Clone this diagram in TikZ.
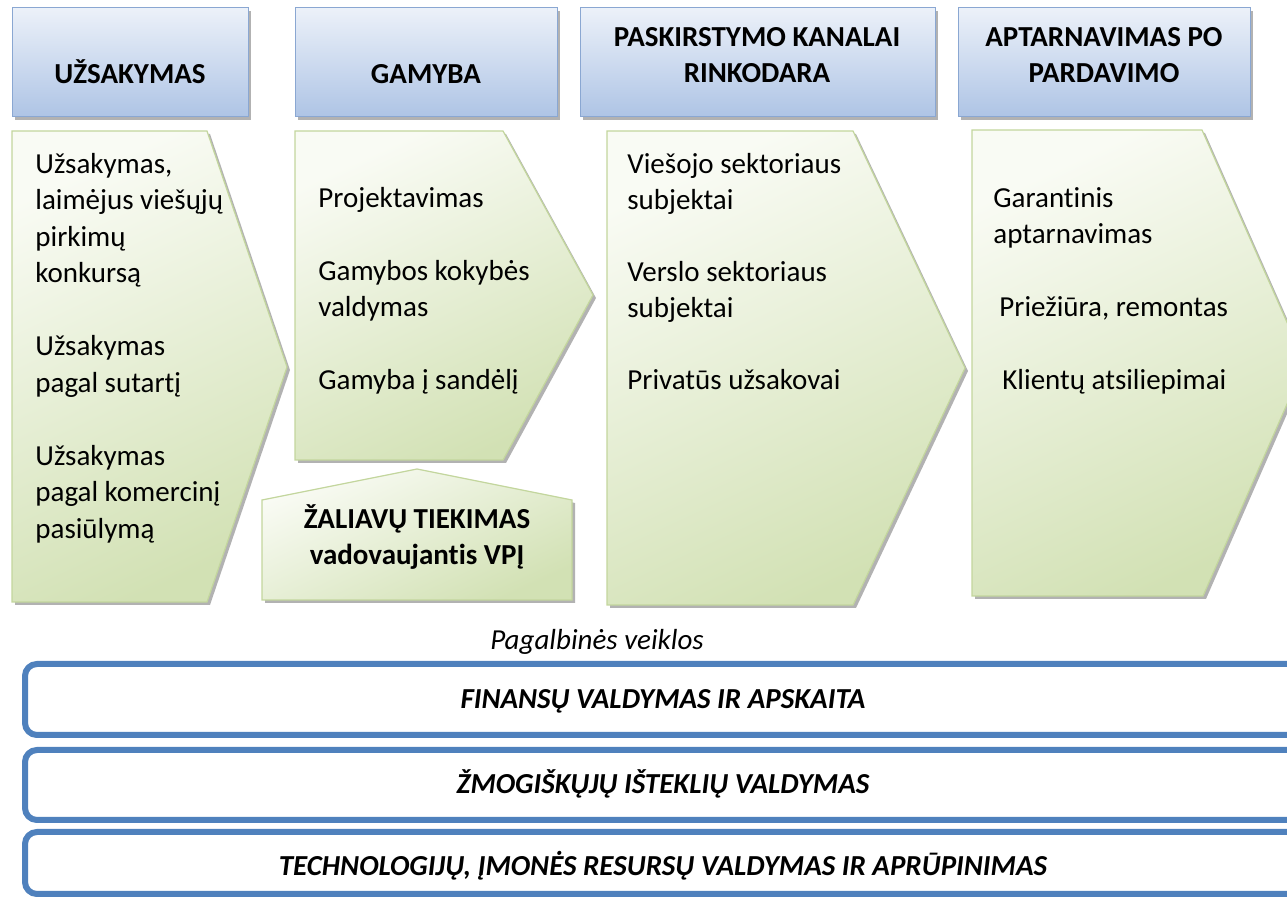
\documentclass[tikz,border=0pt]{standalone}
\usepackage{fontspec}
\setmainfont{Carlito}[Ligatures=NoCommon]
\usepackage{tikz}
\usetikzlibrary{shadows}

\definecolor{HdrTop}{RGB}{236,241,249}
\definecolor{HdrBot}{RGB}{174,196,229}
\definecolor{HdrLine}{RGB}{138,167,210}
\definecolor{ChvTop}{RGB}{249,251,244}
\definecolor{ChvBot}{RGB}{210,225,180}
\definecolor{ChvLine}{RGB}{195,214,157}
\definecolor{BarLine}{RGB}{79,129,189}
\newcommand{\chainfont}{\fontsize{14.5}{18.25}\selectfont}

\begin{document}
\begin{tikzpicture}[x=0.5pt, y=-0.5pt,
      font = \chainfont,
       shd/.style = {drop shadow={shadow xshift=1.5pt, shadow yshift=-1.5pt,
                                  fill=black!55, opacity=0.55}},
       hdr/.style = {shd, draw=HdrLine, line width=0.5pt,
                     top color=HdrTop, bottom color=HdrBot},
       chv/.style = {shd, draw=ChvLine, line width=0.6pt,
                     top color=ChvTop, bottom color=ChvBot, shading angle=25},
       bar/.style = {draw=BarLine, line width=3pt, rounded corners=6pt, fill=white},
       ttl/.style = {inner sep=0pt, align=center, font=\chainfont\bfseries},
       txt/.style = {inner sep=0pt, align=left, anchor=north west},
       sup/.style = {inner sep=0pt, anchor=base, font=\chainfont\bfseries\itshape}
                    ]
\clip (0,0) rectangle (1287,898);
% primary activities: headers
\draw[hdr] (12,8)   rectangle (248,117);
\draw[hdr] (295,8)  rectangle (557,117);
\draw[hdr] (580,8)  rectangle (935,117);
\draw[hdr] (958,8)  rectangle (1250,117);
\node (h1) [ttl,anchor=north] at (130,57.5)  {\strut UŽSAKYMAS};
\node (h2) [ttl,anchor=north] at (426,57.5)  {\strut GAMYBA};
\node (h3) [ttl,anchor=north] at (757,20.5)  {\strut PASKIRSTYMO KANALAI\\ RINKODARA};
\node (h4) [ttl,anchor=north] at (1104,20.5) {\strut APTARNAVIMAS PO\\ PARDAVIMO};
% primary activities: chevrons
\draw[chv] (12,131)  -- (207,131)  -- (287,367)  -- (207,602)  -- (12,602)  -- cycle;
\draw[chv] (295,131) -- (503,131)  -- (593,295)  -- (503,460)  -- (295,460) -- cycle;
\draw[chv] (262,500) -- (417,469)  -- (572,500)  -- (572,600)  -- (262,600) -- cycle;
\draw[chv] (607,131) -- (853,131)  -- (965,368)  -- (853,605)  -- (607,605) -- cycle;
\draw[chv] (972,130) -- (1202,130) -- (1305,363) -- (1203,596) -- (972,596) -- cycle;
\node (c1) [txt] at (35,147.5)  {\strut Užsakymas,\\ laimėjus viešųjų\\ pirkimų\\ konkursą\\[18.25pt]
                                  Užsakymas\\ pagal sutartį\\[18.25pt]
                                  Užsakymas\\ pagal komercinį\\ pasiūlymą};
\node (c2) [txt] at (318,181.5) {\strut Projektavimas\\[18.25pt]
                                  Gamybos kokybės\\ valdymas\\[18.25pt]
                                  Gamyba į sandėlį};
\node (c3) [txt] at (627,147.5) {\strut Viešojo sektoriaus\\ subjektai\\[17.5pt]
                                  Verslo sektoriaus\\ subjektai\\[17.5pt]
                                  Privatūs užsakovai};
\node (c4) [txt] at (993,181.5) {\strut Garantinis\\ aptarnavimas\\[18.25pt]
                                  \hspace*{3pt}Priežiūra, remontas\\[18.25pt]
                                  \hspace*{4.5pt}Klientų atsiliepimai};
\node (tk) [ttl,anchor=north] at (417,502.5) {\strut ŽALIAVŲ TIEKIMAS\\ vadovaujantis VPĮ};
% support activities
\node (pv) [inner sep=0pt,anchor=base,font=\chainfont\itshape] at (597,650) {Pagalbinės veiklos};
\draw[bar] (25,664) rectangle (1320,735);
\draw[bar] (25,750) rectangle (1320,820);
\draw[bar] (25,832) rectangle (1320,894);
\node (s1) [sup] at (663,709) {FINANSŲ VALDYMAS IR APSKAITA};
\node (s2) [sup] at (663,794) {ŽMOGIŠKŲJŲ IŠTEKLIŲ VALDYMAS};
\node (s3) [sup] at (663,876) {TECHNOLOGIJŲ, ĮMONĖS RESURSŲ VALDYMAS IR APRŪPINIMAS};
\end{tikzpicture}
\end{document}
